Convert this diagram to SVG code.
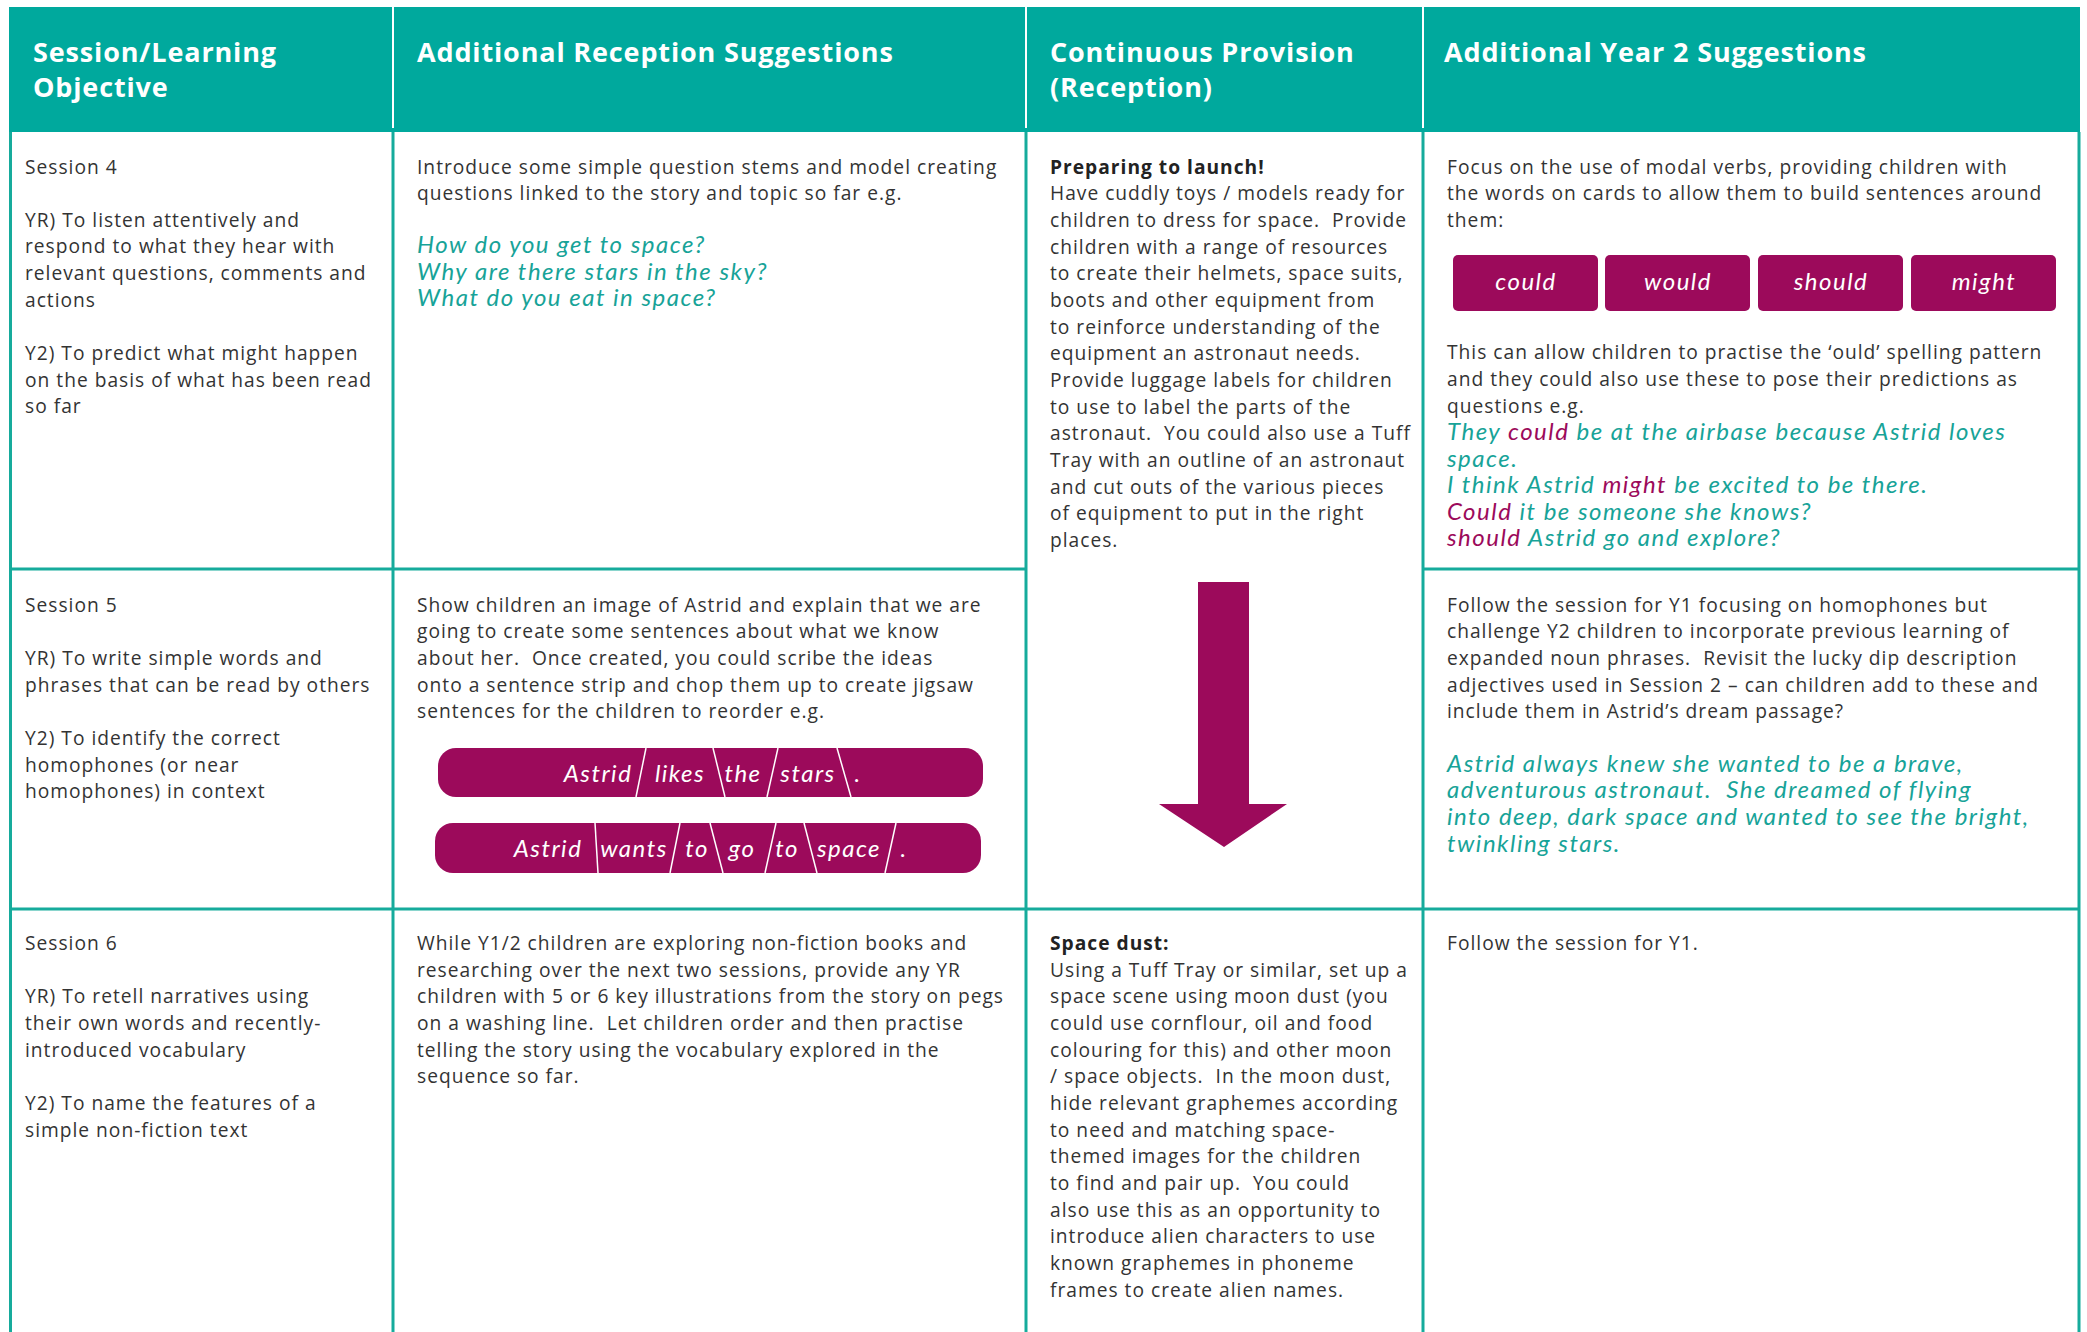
<svg xmlns="http://www.w3.org/2000/svg" width="2087" height="1332" viewBox="0 0 2087 1332" xml:space="preserve">
<style>
text{white-space:pre}
.b{font-family:"Open Sans","Liberation Sans",sans-serif;font-size:19.2px;fill:#333333;letter-spacing:1px}
.bb{font-weight:700;fill:#222}
.h{font-family:"Open Sans","Liberation Sans",sans-serif;font-weight:700;font-size:27px;fill:#ffffff;letter-spacing:0.85px}
.hw{font-family:Lato,"Liberation Sans",sans-serif;font-style:italic;font-size:24px;fill:#17a398;letter-spacing:1.5px}
.m{fill:#9c0a5b}
.btxt{font-family:Lato,"Liberation Sans",sans-serif;font-style:italic;font-size:24px;fill:#ffffff;text-anchor:middle;letter-spacing:1.5px}
.grid{stroke:#16ab9c;stroke-width:3;fill:none}
.sep{stroke:#ffffff;stroke-width:1.5}
</style>
<rect x="0" y="0" width="2087" height="1332" fill="#ffffff"/>
<g id="header">
<rect x="9" y="7" width="2071" height="125" fill="#00a99d"/>
<line x1="393" y1="7" x2="393" y2="128" stroke="#ffffff" stroke-width="2"/>
<line x1="1026" y1="7" x2="1026" y2="128" stroke="#ffffff" stroke-width="2"/>
<line x1="1423" y1="7" x2="1423" y2="128" stroke="#ffffff" stroke-width="2"/>
<text class="h" x="33" y="62">Session/Learning</text>
<text class="h" x="33" y="97">Objective</text>
<text class="h" x="417" y="62">Additional Reception Suggestions</text>
<text class="h" x="1050" y="62">Continuous Provision</text>
<text class="h" x="1050" y="97">(Reception)</text>
<text class="h" x="1444" y="62">Additional Year 2 Suggestions</text>
</g>
<g id="grid">
<line class="grid" x1="10.5" y1="132" x2="10.5" y2="1332"/>
<line class="grid" x1="2079" y1="132" x2="2079" y2="1332"/>
<line class="grid" x1="393" y1="132" x2="393" y2="1332"/>
<line class="grid" x1="1026" y1="132" x2="1026" y2="1332"/>
<line class="grid" x1="1423" y1="132" x2="1423" y2="1332"/>
<line class="grid" x1="9" y1="569" x2="1026" y2="569"/>
<line class="grid" x1="1423" y1="569" x2="2080" y2="569"/>
<line class="grid" x1="9" y1="909" x2="2080" y2="909"/>
</g>
<g id="r1c1">
<text class="b" x="25" y="174">Session 4</text>
<text class="b" x="25" y="227">YR) To listen attentively and</text>
<text class="b" x="25" y="253">respond to what they hear with</text>
<text class="b" x="25" y="280">relevant questions, comments and</text>
<text class="b" x="25" y="307">actions</text>
<text class="b" x="25" y="360">Y2) To predict what might happen</text>
<text class="b" x="25" y="387">on the basis of what has been read</text>
<text class="b" x="25" y="413">so far</text>
</g>
<g id="r1c2">
<text class="b" x="417" y="174">Introduce some simple question stems and model creating</text>
<text class="b" x="417" y="200">questions linked to the story and topic so far e.g.</text>
<text class="hw" x="417" y="253">How do you get to space?</text>
<text class="hw" x="417" y="280">Why are there stars in the sky?</text>
<text class="hw" x="417" y="306">What do you eat in space?</text>
</g>
<g id="r12c3">
<text class="b bb" x="1050" y="174">Preparing to launch!</text>
<text class="b" x="1050" y="200">Have cuddly toys / models ready for</text>
<text class="b" x="1050" y="227">children to dress for space.  Provide</text>
<text class="b" x="1050" y="254">children with a range of resources</text>
<text class="b" x="1050" y="280">to create their helmets, space suits,</text>
<text class="b" x="1050" y="307">boots and other equipment from</text>
<text class="b" x="1050" y="334">to reinforce understanding of the</text>
<text class="b" x="1050" y="360">equipment an astronaut needs.</text>
<text class="b" x="1050" y="387">Provide luggage labels for children</text>
<text class="b" x="1050" y="414">to use to label the parts of the</text>
<text class="b" x="1050" y="440">astronaut.  You could also use a Tuff</text>
<text class="b" x="1050" y="467">Tray with an outline of an astronaut</text>
<text class="b" x="1050" y="494">and cut outs of the various pieces</text>
<text class="b" x="1050" y="520">of equipment to put in the right</text>
<text class="b" x="1050" y="547">places.</text>
</g>
<g id="connectors">
<polygon points="1198,582 1249,582 1249,804 1287,804 1224,847 1159,804 1198,804" fill="#9c0a5b"/>
</g>
<g id="r1c4">
<text class="b" x="1447" y="174">Focus on the use of modal verbs, providing children with</text>
<text class="b" x="1447" y="200">the words on cards to allow them to build sentences around</text>
<text class="b" x="1447" y="227">them:</text>
<rect x="1453" y="255" width="145" height="56" rx="5" fill="#9c0a5b"/>
<rect x="1605" y="255" width="145" height="56" rx="5" fill="#9c0a5b"/>
<rect x="1758" y="255" width="145" height="56" rx="5" fill="#9c0a5b"/>
<rect x="1911" y="255" width="145" height="56" rx="5" fill="#9c0a5b"/>
<text class="btxt" x="1526" y="290">could</text>
<text class="btxt" x="1678" y="290">would</text>
<text class="btxt" x="1831" y="290">should</text>
<text class="btxt" x="1984" y="290">might</text>
<text class="b" x="1447" y="359">This can allow children to practise the ‘ould’ spelling pattern</text>
<text class="b" x="1447" y="386">and they could also use these to pose their predictions as</text>
<text class="b" x="1447" y="413">questions e.g.</text>
<text class="hw" x="1447" y="440">They <tspan class="m">could</tspan> be at the airbase because Astrid loves</text>
<text class="hw" x="1447" y="467">space.</text>
<text class="hw" x="1447" y="493">I think Astrid <tspan class="m">might</tspan> be excited to be there.</text>
<text class="hw" x="1447" y="520"><tspan class="m">Could</tspan> it be someone she knows?</text>
<text class="hw" x="1447" y="546"><tspan class="m">should</tspan> Astrid go and explore?</text>
</g>
<g id="r2c1">
<text class="b" x="25" y="612">Session 5</text>
<text class="b" x="25" y="665">YR) To write simple words and</text>
<text class="b" x="25" y="692">phrases that can be read by others</text>
<text class="b" x="25" y="745">Y2) To identify the correct</text>
<text class="b" x="25" y="772">homophones (or near</text>
<text class="b" x="25" y="798">homophones) in context</text>
</g>
<g id="r2c2">
<text class="b" x="417" y="612">Show children an image of Astrid and explain that we are</text>
<text class="b" x="417" y="638">going to create some sentences about what we know</text>
<text class="b" x="417" y="665">about her.  Once created, you could scribe the ideas</text>
<text class="b" x="417" y="692">onto a sentence strip and chop them up to create jigsaw</text>
<text class="b" x="417" y="718">sentences for the children to reorder e.g.</text>
<rect x="438" y="748" width="545" height="49" rx="18" fill="#9c0a5b"/>
<line class="sep" x1="646" y1="748" x2="636" y2="797"/>
<line class="sep" x1="713" y1="748" x2="725" y2="797"/>
<line class="sep" x1="778" y1="748" x2="767" y2="797"/>
<line class="sep" x1="837" y1="748" x2="851" y2="797"/>
<text class="btxt" x="598" y="782">Astrid</text>
<text class="btxt" x="680" y="782">likes</text>
<text class="btxt" x="743" y="782">the</text>
<text class="btxt" x="808" y="782">stars</text>
<text class="btxt" x="858" y="782">.</text>
<rect x="435" y="823" width="546" height="50" rx="18" fill="#9c0a5b"/>
<line class="sep" x1="595" y1="823" x2="598" y2="873"/>
<line class="sep" x1="680" y1="823" x2="670" y2="873"/>
<line class="sep" x1="710" y1="823" x2="723" y2="873"/>
<line class="sep" x1="776" y1="823" x2="765" y2="873"/>
<line class="sep" x1="804" y1="823" x2="817" y2="873"/>
<line class="sep" x1="896" y1="823" x2="885" y2="873"/>
<text class="btxt" x="548" y="857">Astrid</text>
<text class="btxt" x="634" y="857">wants</text>
<text class="btxt" x="697" y="857">to</text>
<text class="btxt" x="742" y="857">go</text>
<text class="btxt" x="787" y="857">to</text>
<text class="btxt" x="849" y="857">space</text>
<text class="btxt" x="904" y="857">.</text>
</g>
<g id="r2c4">
<text class="b" x="1447" y="612">Follow the session for Y1 focusing on homophones but</text>
<text class="b" x="1447" y="638">challenge Y2 children to incorporate previous learning of</text>
<text class="b" x="1447" y="665">expanded noun phrases.  Revisit the lucky dip description</text>
<text class="b" x="1447" y="692">adjectives used in Session 2 – can children add to these and</text>
<text class="b" x="1447" y="718">include them in Astrid’s dream passage?</text>
<text class="hw" x="1447" y="772">Astrid always knew she wanted to be a brave,</text>
<text class="hw" x="1447" y="798">adventurous astronaut.  She dreamed of flying</text>
<text class="hw" x="1447" y="825">into deep, dark space and wanted to see the bright,</text>
<text class="hw" x="1447" y="852">twinkling stars.</text>
</g>
<g id="r3c1">
<text class="b" x="25" y="950">Session 6</text>
<text class="b" x="25" y="1003">YR) To retell narratives using</text>
<text class="b" x="25" y="1030">their own words and recently-</text>
<text class="b" x="25" y="1057">introduced vocabulary</text>
<text class="b" x="25" y="1110">Y2) To name the features of a</text>
<text class="b" x="25" y="1137">simple non-fiction text</text>
</g>
<g id="r3c2">
<text class="b" x="417" y="950">While Y1/2 children are exploring non-fiction books and</text>
<text class="b" x="417" y="977">researching over the next two sessions, provide any YR</text>
<text class="b" x="417" y="1003">children with 5 or 6 key illustrations from the story on pegs</text>
<text class="b" x="417" y="1030">on a washing line.  Let children order and then practise</text>
<text class="b" x="417" y="1057">telling the story using the vocabulary explored in the</text>
<text class="b" x="417" y="1083">sequence so far.</text>
</g>
<g id="r3c3">
<text class="b bb" x="1050" y="950">Space dust:</text>
<text class="b" x="1050" y="977">Using a Tuff Tray or similar, set up a</text>
<text class="b" x="1050" y="1003">space scene using moon dust (you</text>
<text class="b" x="1050" y="1030">could use cornflour, oil and food</text>
<text class="b" x="1050" y="1057">colouring for this) and other moon</text>
<text class="b" x="1050" y="1083">/ space objects.  In the moon dust,</text>
<text class="b" x="1050" y="1110">hide relevant graphemes according</text>
<text class="b" x="1050" y="1137">to need and matching space-</text>
<text class="b" x="1050" y="1163">themed images for the children</text>
<text class="b" x="1050" y="1190">to find and pair up.  You could</text>
<text class="b" x="1050" y="1217">also use this as an opportunity to</text>
<text class="b" x="1050" y="1243">introduce alien characters to use</text>
<text class="b" x="1050" y="1270">known graphemes in phoneme</text>
<text class="b" x="1050" y="1297">frames to create alien names.</text>
</g>
<g id="r3c4">
<text class="b" x="1447" y="950">Follow the session for Y1.</text>
</g>
</svg>
